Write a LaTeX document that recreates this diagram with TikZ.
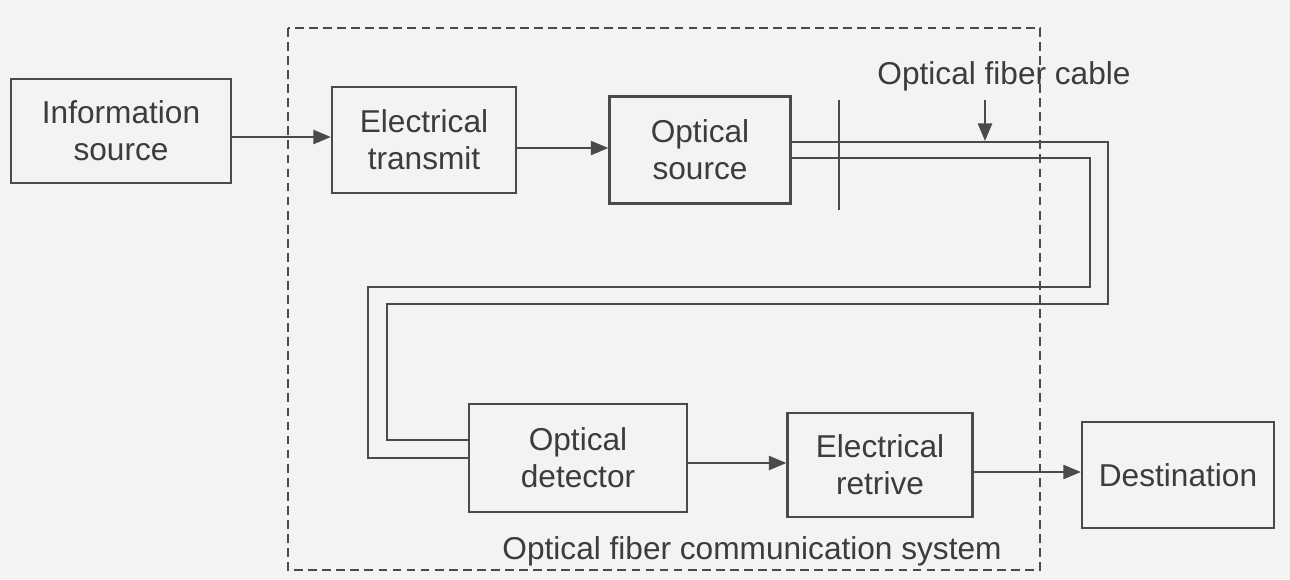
\documentclass[tikz,border=0pt]{standalone}
\usepackage{fontspec}
\setmainfont{Liberation Sans}
\usepackage{xcolor}
\usepackage{tikz}
\usetikzlibrary{positioning,arrows.meta,calc}
\definecolor{PaperGrey}{HTML}{F3F3F1}
\definecolor{InkGrey}{HTML}{4A4A4A}
\definecolor{TextGrey}{HTML}{3C3C3C}

\tikzset{
  block/.style={draw=InkGrey, line width=1.3pt, align=center, text=TextGrey,
                font=\fontsize{18}{21}\selectfont, inner sep=0pt},
  flow/.style={draw=InkGrey, line width=1.3pt, -{Triangle[length=10pt,width=8pt]}},
  fibre/.style={draw=InkGrey, line width=1.3pt},
  sysframe/.style={draw=InkGrey, line width=0.9pt, dash pattern=on 5pt off 3pt},
  caption/.style={text=TextGrey, font=\fontsize{18}{21}\selectfont}
}

\begin{document}
\begin{tikzpicture}[x=0.02cm, y=-0.02cm]
  \fill[PaperGrey] (0,0) rectangle (1290,579);
  \useasboundingbox (0,0) rectangle (1290,579);

  \draw[sysframe] (288,28) rectangle (1040,570);

  \node[block, minimum width=4.4cm, minimum height=2.08cm] (info) at (121,131) {Information\\source};
  \node[block, minimum width=3.68cm, minimum height=2.12cm] (etrans) at (424,140) {Electrical\\transmit};
  \node[block, minimum width=3.62cm, minimum height=2.14cm] (osrc) at (700,150) {Optical\\source};
  \node[block, minimum width=4.36cm, minimum height=2.16cm] (odet) at (578,458) {Optical\\detector};
  \node[block, minimum width=3.7cm, minimum height=2.08cm] (eret) at (880,465) {Electrical\\retrive};
  \node[block, minimum width=3.84cm, minimum height=2.12cm] (dest) at (1178,475) {Destination};

  \draw[flow] (info.east |- 0,137) -- (etrans.west |- 0,137);
  \draw[flow] (etrans.east |- 0,148) -- (osrc.west |- 0,148);
  \draw[flow] (odet.east |- 0,463) -- (eret.west |- 0,463);
  \draw[flow] (eret.east |- 0,472) -- (dest.west |- 0,472);

  \draw[fibre] (osrc.east |- 0,142) -- (1108,142) -- (1108,304) -- (387,304)
               -- (387,440) -- (odet.west |- 0,440);
  \draw[fibre] (osrc.east |- 0,158) -- (1090,158) -- (1090,287) -- (368,287)
               -- (368,458) -- (odet.west |- 0,458);
  \draw[fibre] (839,100) -- (839,210);

  \node[caption] (cablelbl) at (1004,76) {Optical fiber cable};
  \coordinate (cabletip) at (985,141);
  \draw[flow] (cabletip |- 0,100) -- (cabletip);

  \node[caption] (syslbl) at (752,551) {Optical fiber communication system};
\end{tikzpicture}
\end{document}
